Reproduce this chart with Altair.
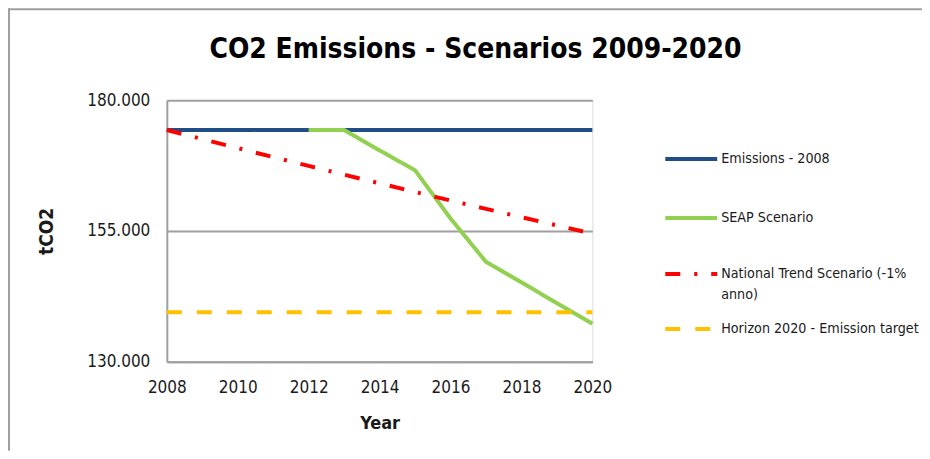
import altair as alt
import pandas as pd

years = [2008, 2009, 2010, 2011, 2012, 2013, 2014, 2015, 2016, 2017, 2018, 2019, 2020]
emissions_2008 = [174300] * 13
seap_years = [2012, 2013, 2014, 2015, 2016, 2017, 2018, 2019, 2020]
seap_values = [174300, 174300, 170400, 166600, 157400, 149100, 145200, 141200, 137300]
national_trend = [174300, 172560, 170830, 169120, 167430, 165760, 164100, 162460, 160830,
                  159230, 157630, 156060, 154500]
target_years = [2008, 2020]
target_values = [139500, 139500]

title_text = "CO2 Emissions - Scenarios 2009-2020"
series_names = ["Emissions  - 2008", "SEAP Scenario", "National Trend Scenario (-1% anno)",
                "Horizon 2020 - Emission target"]
legend_labels = [["Emissions  - 2008"], ["SEAP Scenario"],
                 ["National Trend Scenario (-1%", "anno)"], ["Horizon 2020 - Emission target"]]
colors = ["#1F4E86", "#92D050", "#FF0000", "#FFC000"]
dashes = [[1, 0], [1, 0], [15, 14, 3, 14], [15, 15]]

FONT = "DejaVu Sans Condensed, DejaVu Sans, Liberation Sans, sans-serif"
W, H = 426, 262
PAD = {"left": 159, "top": 92, "right": 330, "bottom": 89}

frames = [
    pd.DataFrame({"year": years, "value": emissions_2008, "series": series_names[0]}),
    pd.DataFrame({"year": seap_years, "value": seap_values, "series": series_names[1]}),
    pd.DataFrame({"year": years, "value": national_trend, "series": series_names[2]}),
    pd.DataFrame({"year": target_years, "value": target_values, "series": series_names[3]}),
]

x_enc = alt.X("year:Q", scale=alt.Scale(domain=[2008, 2020], nice=False),
              axis=alt.Axis(values=[2008, 2010, 2012, 2014, 2016, 2018, 2020], format="d",
                            title="Year", grid=False, ticks=False, tickSize=0,
                            labelFlush=False, labelOverlap=False,
                            labelPadding=18, labelFontSize=17, labelFont=FONT,
                            labelColor="#1a1a1a", domainColor="#a0a0a0", domainWidth=2,
                            titleFont=FONT, titleFontSize=18, titleFontWeight="bold",
                            titleColor="#1a1a1a", titleY=62, titleBaseline="middle",
                            titleX=W / 2, titleAnchor="middle"))
y_enc = alt.Y("value:Q", scale=alt.Scale(domain=[130000, 180000], nice=False),
              axis=alt.Axis(values=[130000, 155000, 180000],
                            labelExpr="replace(format(datum.value, ','), ',', '.')",
                            title="tCO2", grid=True, gridColor="#a0a0a0", gridWidth=2,
                            ticks=False, tickSize=0, labelPadding=17, labelFontSize=17,
                            labelFlush=False, labelOverlap=False,
                            labelFont=FONT, labelColor="#1a1a1a", domainColor="#a0a0a0",
                            domainWidth=2, titleFont=FONT, titleFontSize=19,
                            titleFontWeight="bold", titleColor="#1a1a1a", titleX=-120,
                            titleY=H / 2, titleAngle=-90, titleAlign="center",
                            titleBaseline="middle"))

layers = []
for i, df in enumerate(frames):
    enc = dict(x=x_enc, y=y_enc) if i == 0 else dict(x="year:Q", y="value:Q")
    layers.append(
        alt.Chart(df).mark_line(color=colors[i], strokeWidth=4, strokeDash=dashes[i],
                                strokeCap="butt").encode(**enc)
    )

one = alt.Data(values=[{"a": 1}])
legend_y = [59, 118, 174, 229]
for i in range(4):
    layers.append(
        alt.Chart(one).mark_rule(color=colors[i], strokeWidth=4, strokeDash=dashes[i],
                                 strokeCap="butt")
        .encode(x=alt.value(499), x2=alt.value(551), y=alt.value(legend_y[i]))
    )
    for j, line in enumerate(legend_labels[i]):
        layers.append(
            alt.Chart(one).mark_text(text=line, align="left", baseline="middle", font=FONT,
                                     fontSize=14.2, color="#1a1a1a")
            .encode(x=alt.value(555), y=alt.value(legend_y[i] + 21 * j))
        )

# chart title
layers.append(
    alt.Chart(one).mark_text(text=title_text, align="center", baseline="middle", font=FONT,
                             fontSize=28, fontWeight="bold", color="#000000")
    .encode(x=alt.value(309), y=alt.value(-50))
)

# outer frame (top and left edges)
layers.append(
    alt.Chart(one).mark_rule(color="#a0a0a0", strokeWidth=2)
    .encode(x=alt.value(-158), y=alt.value(-92), y2=alt.value(H + PAD["bottom"]))
)
layers.append(
    alt.Chart(one).mark_rule(color="#a0a0a0", strokeWidth=2)
    .encode(x=alt.value(-159), x2=alt.value(W + PAD["right"]), y=alt.value(-91))
)

chart = alt.layer(*layers).properties(
    width=W, height=H,
    autosize=alt.AutoSizeParams(type="none"),
    padding=PAD,
).configure_view(stroke=None).configure(background="white")

chart.save("out.html", embed_options={"renderer": "svg", "actions": False})
